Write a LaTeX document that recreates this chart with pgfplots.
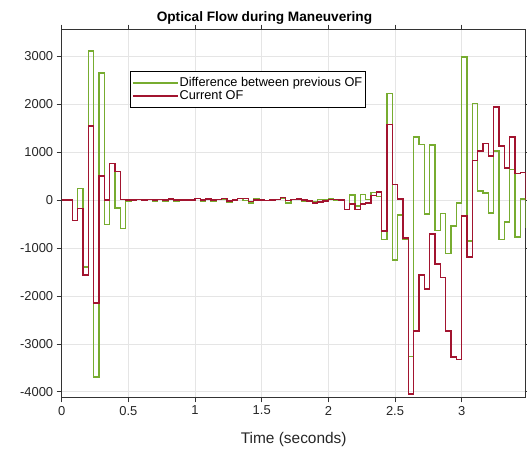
\documentclass[border=0pt]{standalone}
\usepackage{pgfplots}
\pgfplotsset{compat=1.18}
\usepackage{pgfplotstable}
\usepackage{fontspec}
\setmainfont{Liberation Sans}
\definecolor{ofgreen}{RGB}{119,172,48}
\definecolor{ofred}{RGB}{162,20,47}

% time, current OF, difference between previous OF
\pgfplotstableread{
t cur diff
0.00 0 0
0.04 0 0
0.08 -418 -418
0.12 -174 244
0.16 -1566 -1392
0.20 1551 3117
0.24 -2144 -3695
0.28 508 2652
0.32 0 -508
0.36 766 766
0.40 605 -161
0.44 15 -590
0.48 0 -15
0.52 0 0
0.56 10 10
0.60 0 -10
0.64 20 20
0.68 0 -20
0.72 20 20
0.76 0 -20
0.80 25 25
0.84 0 -25
0.88 0 0
0.92 5 5
0.96 0 -5
1.00 30 30
1.04 0 -30
1.08 25 25
1.12 0 -25
1.16 10 10
1.20 35 25
1.24 -15 -50
1.28 0 15
1.32 35 35
1.36 30 -5
1.40 -25 -55
1.44 0 25
1.48 0 0
1.52 -10 -10
1.56 0 10
1.60 10 10
1.64 50 40
1.68 -10 -60
1.72 10 20
1.76 25 15
1.80 0 -25
1.84 -20 -20
1.88 -55 -35
1.92 -35 20
1.96 -20 15
2.00 15 35
2.04 10 -5
2.08 0 -10
2.12 -190 -190
2.16 -80 110
2.20 -200 -120
2.24 -80 120
2.28 -60 20
2.32 100 160
2.36 175 75
2.40 -647 -822
2.44 1580 2227
2.48 327 -1253
2.52 21 -306
2.56 -786 -807
2.60 -4051 -3265
2.64 -2728 1323
2.68 -1566 1162
2.72 -1858 -292
2.76 -703 1155
2.80 -1336 -633
2.84 -1615 -279
2.88 -2728 -1113
2.92 -3271 -543
2.96 -3327 -56
3.00 -334 2993
3.04 -1183 -849
3.08 835 2018
3.12 1030 195
3.16 1183 153
3.20 919 -264
3.24 1949 1030
3.28 1128 -821
3.32 675 -453
3.36 1322 647
3.40 557 -765
3.44 578 21
3.48 0 -578
}\ofdata

\begin{document}
\begin{tikzpicture}
\path[use as bounding box] (-61.7bp,-51.7bp) rectangle (465.3bp,397.5bp);
\begin{axis}[
    at={(0,0)}, anchor=south west,
    scale only axis,
    width=464bp, height=367.8bp,
    xmin=0, xmax=3.48,
    ymin=-4120, ymax=3560,
    xtick={0,0.5,1,1.5,2,2.5,3},
    ytick={-4000,-3000,-2000,-1000,0,1000,2000,3000},
    /pgf/number format/assume math mode=true,
    /pgf/number format/set thousands separator={},
    xticklabel style={/pgf/number format/fixed},
    tick label style={font=\fontsize{13}{15}\selectfont, text=black!85},
    tick align=outside,
    major tick length=5bp,
    xtick pos=both, ytick pos=both,
    grid=major,
    major grid style={black!10, line width=0.6bp},
    axis line style={black!80, line width=0.6bp},
    every tick/.style={black!80, line width=0.6bp},
    title={Optical Flow during Maneuvering},
    title style={font=\bfseries\fontsize{13.7}{16}\selectfont, text=black,
        at={(axis description cs:0.437,1)}, anchor=base, yshift=8.5bp},
    every axis title shift=0pt,
    xlabel={Time (seconds)},
    xlabel style={font=\fontsize{15.5}{18}\selectfont, text=black!85,
        at={(axis description cs:0.5,0)}, anchor=base, yshift=-45.5bp},
    legend cell align=left,
    legend style={at={(axis description cs:0.147,0.887)}, anchor=north west,
        draw=black, line width=0.6bp, fill=white,
        font=\fontsize{12.8}{13}\selectfont,
        inner xsep=2bp, inner ysep=4bp, row sep=-1.5bp,
        nodes={inner xsep=1.2bp}},
    legend image code/.code={\draw[#1, line width=1.2bp] (0bp,0bp) -- (45bp,0bp);},
]
\addplot[const plot, ofgreen, line width=1.4bp] table[x=t, y=diff] {\ofdata};
\addplot[const plot, ofred, line width=1.4bp] table[x=t, y=cur] {\ofdata};
\legend{Difference between previous OF, Current OF}
\end{axis}
\end{tikzpicture}
\end{document}
